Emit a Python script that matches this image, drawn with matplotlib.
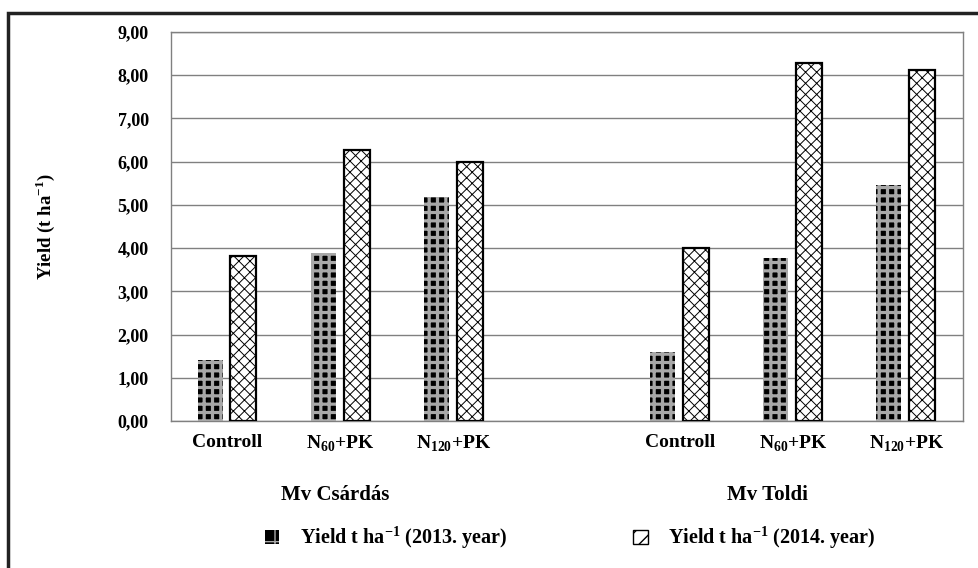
import matplotlib
matplotlib.use('Agg')
import matplotlib.pyplot as plt
from matplotlib.patches import Patch, Rectangle
import numpy as np

plt.rcParams['font.family'] = ['Liberation Serif', 'DejaVu Serif']
plt.rcParams['font.weight'] = 'bold'
plt.rcParams['axes.labelweight'] = 'bold'
plt.rcParams['mathtext.fontset'] = 'custom'
plt.rcParams['mathtext.rm'] = 'Liberation Serif:bold'
plt.rcParams['mathtext.bf'] = 'Liberation Serif:bold'

# data
categories = ['Controll', r'N$_{\mathregular{60}}$+PK', r'N$_{\mathregular{120}}$+PK',
              '', 'Controll', r'N$_{\mathregular{60}}$+PK', r'N$_{\mathregular{120}}$+PK']
varieties = ['Mv Csárdás', 'Mv Toldi']
yield_2013 = [1.40, 3.89, 5.17, np.nan, 1.60, 3.78, 5.45]
yield_2014 = [3.82, 6.26, 5.99, np.nan, 4.00, 8.28, 8.12]
label_2013 = r'Yield t ha$^{\mathregular{-1}}$ (2013. year)'
label_2014 = r'Yield t ha$^{\mathregular{-1}}$ (2014. year)'

fig = plt.figure(figsize=(9.79, 5.68), dpi=100)
ax = fig.add_axes([0.1747, 0.2588, 0.809, 0.685])

x = np.arange(len(categories))
w = 0.22

with plt.rc_context({'hatch.linewidth': 2.3}):
    b1 = ax.bar(x - 0.155, yield_2013, w, color='black', edgecolor='#a8a8a8',
                hatch='++', linewidth=0, zorder=3)
with plt.rc_context({'hatch.linewidth': 0.7}):
    b2 = ax.bar(x + 0.14, yield_2014, 0.23, color='white', edgecolor='black',
                hatch='xxx', linewidth=1.6, zorder=3)

ax.set_xlim(-0.5, len(categories) - 0.5)
ax.set_ylim(0, 9)
ax.set_yticks(np.arange(0, 10, 1))
ax.set_yticklabels([f'{v:.2f}'.replace('.', ',') for v in np.arange(0, 10, 1)])
ax.set_xticks(x)
ax.set_xticklabels(categories)
ax.tick_params(length=0)
ax.tick_params(axis='y', pad=16, labelsize=13)
ax.tick_params(axis='x', pad=9, labelsize=14)
ax.grid(axis='y', color='#808080', linewidth=1, zorder=0)
for s in ax.spines.values():
    s.set_color('#808080')
    s.set_linewidth(1)

ax.set_ylabel(r'Yield (t ha$^{\mathregular{-1}}$)', fontsize=13.5,
              fontweight='bold', labelpad=44)

# variety group labels
ax.text(0.95, -0.19, varieties[0], transform=ax.get_xaxis_transform(),
        ha='center', va='center', fontsize=15)
ax.text(4.77, -0.19, varieties[1], transform=ax.get_xaxis_transform(),
        ha='center', va='center', fontsize=15)

# legend, one entry each so they sit where the reference has them
with plt.rc_context({'hatch.linewidth': 1.5}):
    h1 = Patch(facecolor='black', edgecolor='#aaaaaa', hatch='+', linewidth=0)
with plt.rc_context({'hatch.linewidth': 0.8}):
    h2 = Patch(facecolor='white', edgecolor='black', hatch='//', linewidth=1)
for h, lab, lx in [(h1, label_2013, 0.271), (h2, label_2014, 0.647)]:
    fig.legend([h], [lab], loc='center left', bbox_to_anchor=(lx, 0.053),
               frameon=False, fontsize=14.5, borderpad=0, borderaxespad=0,
               handlelength=0.7, handleheight=0.7, handletextpad=1.0)

# outer frame
fig.patches.append(Rectangle((0.0082, -0.05), 1.2, 0.05 + (568 - 13) / 568,
                             transform=fig.transFigure, fill=False,
                             edgecolor='#222222', linewidth=2.5))

fig.savefig('out.png', dpi=100)
